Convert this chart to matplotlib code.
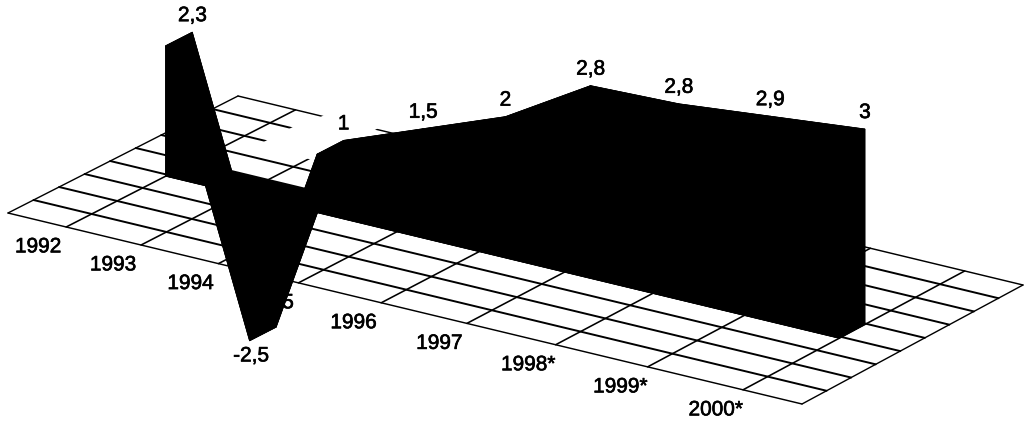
import numpy as np
import matplotlib.pyplot as plt
import matplotlib.patheffects as pe
from matplotlib.patches import Polygon

plt.rcParams["font.family"] = ["Liberation Sans", "DejaVu Sans"]

years = ["1992", "1993", "1994", "1995", "1996", "1997", "1998*", "1999*", "2000*"]
values = [2.3, -2.5, 1, 1.5, 2, 2.8, 2.8, 2.9, 3]

# floor corners on the canvas, v runs front to back
left = np.array([8.0, 213.0])
front = np.array([802.0, 404.0])
back = np.array([238.0, 96.0])
right = np.array([1023.0, 285.0])
n_depth = 9
margin_l, margin_r = 0.8, 0.6
persp = -0.15
ribbon_front, ribbon_back = 3.9, 4.95
tip_shift = 0.012  # the low point sits a little right of its grid line

bold = [pe.withStroke(linewidth=0.45, foreground="black")]


def u_of(i):
    return (i + margin_l) / (len(years) - 1 + margin_l + margin_r)


def t_of(u):
    return u * (1 + persp) / (1 + persp * u)


def project(t, v, z=0.0):
    # t along the years, v along the depth, z up from the floor
    u = t / (1 + persp - persp * t)
    edge = left + t * (front - left)
    depth = (back - left) + t * ((right - front) - (back - left))
    p = edge + v / n_depth * depth
    p[1] -= z * 56 / (1 + persp * u)
    return p


fig = plt.figure(figsize=(10.24, 4.24), dpi=100)
ax = fig.add_axes([0, 0, 1, 1])
ax.set_xlim(0, 1024)
ax.set_ylim(424, 0)
ax.axis("off")


def line(a, b, lw=1.1):
    ax.plot([a[0], b[0]], [a[1], b[1]], color="black", lw=lw, solid_capstyle="round", zorder=1)


# floor grid
for v in range(n_depth + 1):
    line(project(0, v), project(1, v), 1.05 if v in (0, n_depth) else 1.4)
line(project(0, 0), project(0, n_depth), 1.0)
line(project(1, 0), project(1, n_depth), 1.0)
for i in range(len(years)):
    t = t_of(u_of(i))
    line(project(t, 0), project(t, n_depth), 1.15)

# bare part of the floor behind the label of the third point
mask1 = [project(0.1, 6.6), project(0.3, 6.6), project(0.3, 8.5), project(0.1, 8.5)]
mask2 = [project(0.107, 8.4), project(0.176, 8.4), project(0.176, 9.2), project(0.107, 9.2)]
for m in (mask1, mask2):
    ax.add_patch(Polygon(m, closed=True, fc="white", ec="none", zorder=2))

# ribbon
ts = [t_of(u_of(i)) for i in range(len(years))]
rib_ts = list(ts)
rib_ts[1] += tip_shift
for i in range(len(values) - 1):
    t0, t1 = rib_ts[i], rib_ts[i + 1]
    z0, z1 = values[i], values[i + 1]
    for v in (ribbon_back, ribbon_front):
        ax.add_patch(Polygon([project(t0, v), project(t0, v, z0), project(t1, v, z1), project(t1, v)],
                             closed=True, fc="black", ec="black", lw=0.5, zorder=3))
    top = [project(t0, ribbon_front, z0), project(t0, ribbon_back, z0),
           project(t1, ribbon_back, z1), project(t1, ribbon_front, z1)]
    ax.add_patch(Polygon(top, closed=True, fc="black", ec="black", lw=0.5, zorder=3))
    base = [project(t0, ribbon_front), project(t0, ribbon_back),
            project(t1, ribbon_back), project(t1, ribbon_front)]
    ax.add_patch(Polygon(base, closed=True, fc="black", ec="black", lw=0.5, zorder=3))
# end caps
for t, z in ((rib_ts[0], values[0]), (rib_ts[-1], values[-1])):
    cap = [project(t, ribbon_front), project(t, ribbon_front, z),
           project(t, ribbon_back, z), project(t, ribbon_back)]
    ax.add_patch(Polygon(cap, closed=True, fc="black", ec="black", lw=0.5, zorder=3))

# year labels, the ribbon covers most of 1995
for i, y in enumerate(years):
    ax.annotate(y, project(ts[i], -1.1), xytext=(0, -4), textcoords="offset points",
                fontsize=15, ha="center", va="center", zorder=2, path_effects=bold)

# value labels
for i, val in enumerate(values):
    text = f"{val:g}".replace(".", ",")
    if val < 0:
        ax.annotate(text, project(rib_ts[i], ribbon_front, val), xytext=(1, -4), textcoords="offset points",
                    fontsize=15, ha="center", va="top", zorder=5, path_effects=bold)
    else:
        ax.annotate(text, project(rib_ts[i], ribbon_back, val), xytext=(0, 5), textcoords="offset points",
                    fontsize=15, ha="center", va="bottom", zorder=5, path_effects=bold)

fig.savefig("out.png", dpi=100, facecolor="white")
